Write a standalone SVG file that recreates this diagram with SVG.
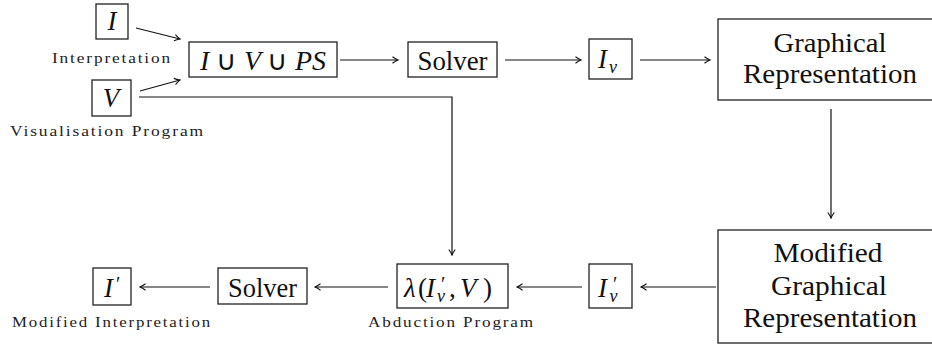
<svg xmlns="http://www.w3.org/2000/svg" width="932" height="345" viewBox="0 0 932 345" font-family="Liberation Serif, serif">
<style>
.box{fill:#fff;stroke:#222;stroke-width:1.3}
.c{fill:none;stroke:#111;stroke-width:1.2;marker-end:url(#ah)}
</style>
<defs>
<marker id="ah" viewBox="-7 -5 8 10" refX="0" refY="0" markerWidth="8" markerHeight="10" markerUnits="userSpaceOnUse" orient="auto">
<path d="M -5.5 -3.2 C -3.2 -1.6 -1.2 -0.4 0 0 C -1.2 0.4 -3.2 1.6 -5.5 3.2" fill="none" stroke="#111" stroke-width="1.1"/>
</marker>
</defs>
<rect width="932" height="345" fill="#fff"/>
<g id="connectors">
<line class="c" x1="136" y1="28" x2="180" y2="39"/>
<line class="c" x1="140" y1="91" x2="180" y2="80"/>
<line class="c" x1="340" y1="60" x2="398" y2="60"/>
<line class="c" x1="505" y1="60" x2="581" y2="60"/>
<line class="c" x1="640" y1="60" x2="710" y2="60"/>
<line class="c" x1="831" y1="109" x2="831" y2="218"/>
<polyline class="c" points="139,97 452,97 452,255"/>
<line class="c" x1="716" y1="287" x2="641" y2="287"/>
<line class="c" x1="582" y1="287" x2="517" y2="287"/>
<line class="c" x1="388" y1="287" x2="315" y2="287"/>
<line class="c" x1="210" y1="287" x2="140" y2="287"/>
</g>
<g id="nodeI">
<rect class="box" x="96" y="4" width="32" height="35"/>
<text font-family="Liberation Serif" font-size="27" font-style="italic" fill="#111" x="112" y="30" text-anchor="middle">I</text>
<text font-family="Liberation Serif" font-size="14" letter-spacing="1.5" fill="#222" x="52" y="63" textLength="120" lengthAdjust="spacingAndGlyphs">Interpretation</text>
</g>
<g id="nodeV">
<rect class="box" x="92" y="80" width="39" height="36"/>
<text font-family="Liberation Serif" font-size="27" font-style="italic" fill="#111" x="111" y="107" text-anchor="middle">V</text>
<text font-family="Liberation Serif" font-size="14" letter-spacing="1.5" fill="#222" x="10" y="136" textLength="195" lengthAdjust="spacingAndGlyphs">Visualisation Program</text>
</g>
<g id="nodeUnion">
<rect class="box" x="189" y="42" width="148" height="35"/>
<text font-family="Liberation Serif" font-size="27" font-style="italic" fill="#111" x="263" y="70" text-anchor="middle" textLength="126" lengthAdjust="spacingAndGlyphs">I <tspan font-style="normal">∪</tspan> V <tspan font-style="normal">∪</tspan> PS</text>
</g>
<g id="nodeSolver1">
<rect class="box" x="408" y="42" width="89" height="35"/>
<text font-family="Liberation Serif" font-size="27" fill="#111" x="452.5" y="70" text-anchor="middle" textLength="70" lengthAdjust="spacingAndGlyphs">Solver</text>
</g>
<g id="nodeIv">
<rect class="box" x="589" y="39" width="43" height="40"/>
<text font-family="Liberation Serif" font-size="27" font-style="italic" fill="#111" x="598" y="68">I<tspan font-size="18" dx="2" dy="5">v</tspan></text>
</g>
<g id="nodeGR">
<rect class="box" x="718" y="19" width="226" height="81"/>
<text font-family="Liberation Serif" font-size="27" fill="#111" x="830" y="52" text-anchor="middle" textLength="113" lengthAdjust="spacingAndGlyphs">Graphical</text>
<text font-family="Liberation Serif" font-size="27" fill="#111" x="830" y="83" text-anchor="middle" textLength="174" lengthAdjust="spacingAndGlyphs">Representation</text>
</g>
<g id="nodeMGR">
<rect class="box" x="718" y="230" width="226" height="113"/>
<text font-family="Liberation Serif" font-size="27" fill="#111" x="828" y="262" text-anchor="middle" textLength="109" lengthAdjust="spacingAndGlyphs">Modified</text>
<text font-family="Liberation Serif" font-size="27" fill="#111" x="829" y="295" text-anchor="middle" textLength="116" lengthAdjust="spacingAndGlyphs">Graphical</text>
<text font-family="Liberation Serif" font-size="27" fill="#111" x="830" y="327" text-anchor="middle" textLength="174" lengthAdjust="spacingAndGlyphs">Representation</text>
</g>
<g id="nodeIvp">
<rect class="box" x="589" y="264" width="43" height="44"/>
<text font-family="Liberation Serif" font-size="27" font-style="italic" fill="#111" x="598" y="297">I<tspan font-size="20" font-style="normal" dx="6" dy="-6">′</tspan><tspan font-size="18" dx="-8" dy="11">v</tspan></text>
</g>
<g id="nodeAbduction">
<rect class="box" x="397" y="264" width="111" height="44"/>
<text font-family="Liberation Serif" font-size="27" fill="#111" y="297"><tspan x="404" font-style="italic">λ</tspan><tspan x="418">(</tspan><tspan x="426" font-style="italic">I</tspan><tspan x="441" y="291" font-size="20">′</tspan><tspan x="437" y="302" font-size="18" font-style="italic">v</tspan><tspan x="449" y="297">,</tspan><tspan x="460" font-style="italic">V</tspan><tspan x="483">)</tspan></text>
<text font-family="Liberation Serif" font-size="14" letter-spacing="1.5" fill="#222" x="368" y="327" textLength="167" lengthAdjust="spacingAndGlyphs">Abduction Program</text>
</g>
<g id="nodeSolver2">
<rect class="box" x="218" y="268" width="89" height="36"/>
<text font-family="Liberation Serif" font-size="27" fill="#111" x="262.5" y="297" text-anchor="middle" textLength="69" lengthAdjust="spacingAndGlyphs">Solver</text>
</g>
<g id="nodeIp">
<rect class="box" x="93" y="268" width="38" height="37"/>
<text font-family="Liberation Serif" font-size="27" font-style="italic" fill="#111" x="104" y="297">I<tspan font-size="20" font-style="normal" dx="3" dy="-6">′</tspan></text>
<text font-family="Liberation Serif" font-size="14" letter-spacing="1.5" fill="#222" x="12" y="327" textLength="200" lengthAdjust="spacingAndGlyphs">Modified Interpretation</text>
</g>
</svg>
